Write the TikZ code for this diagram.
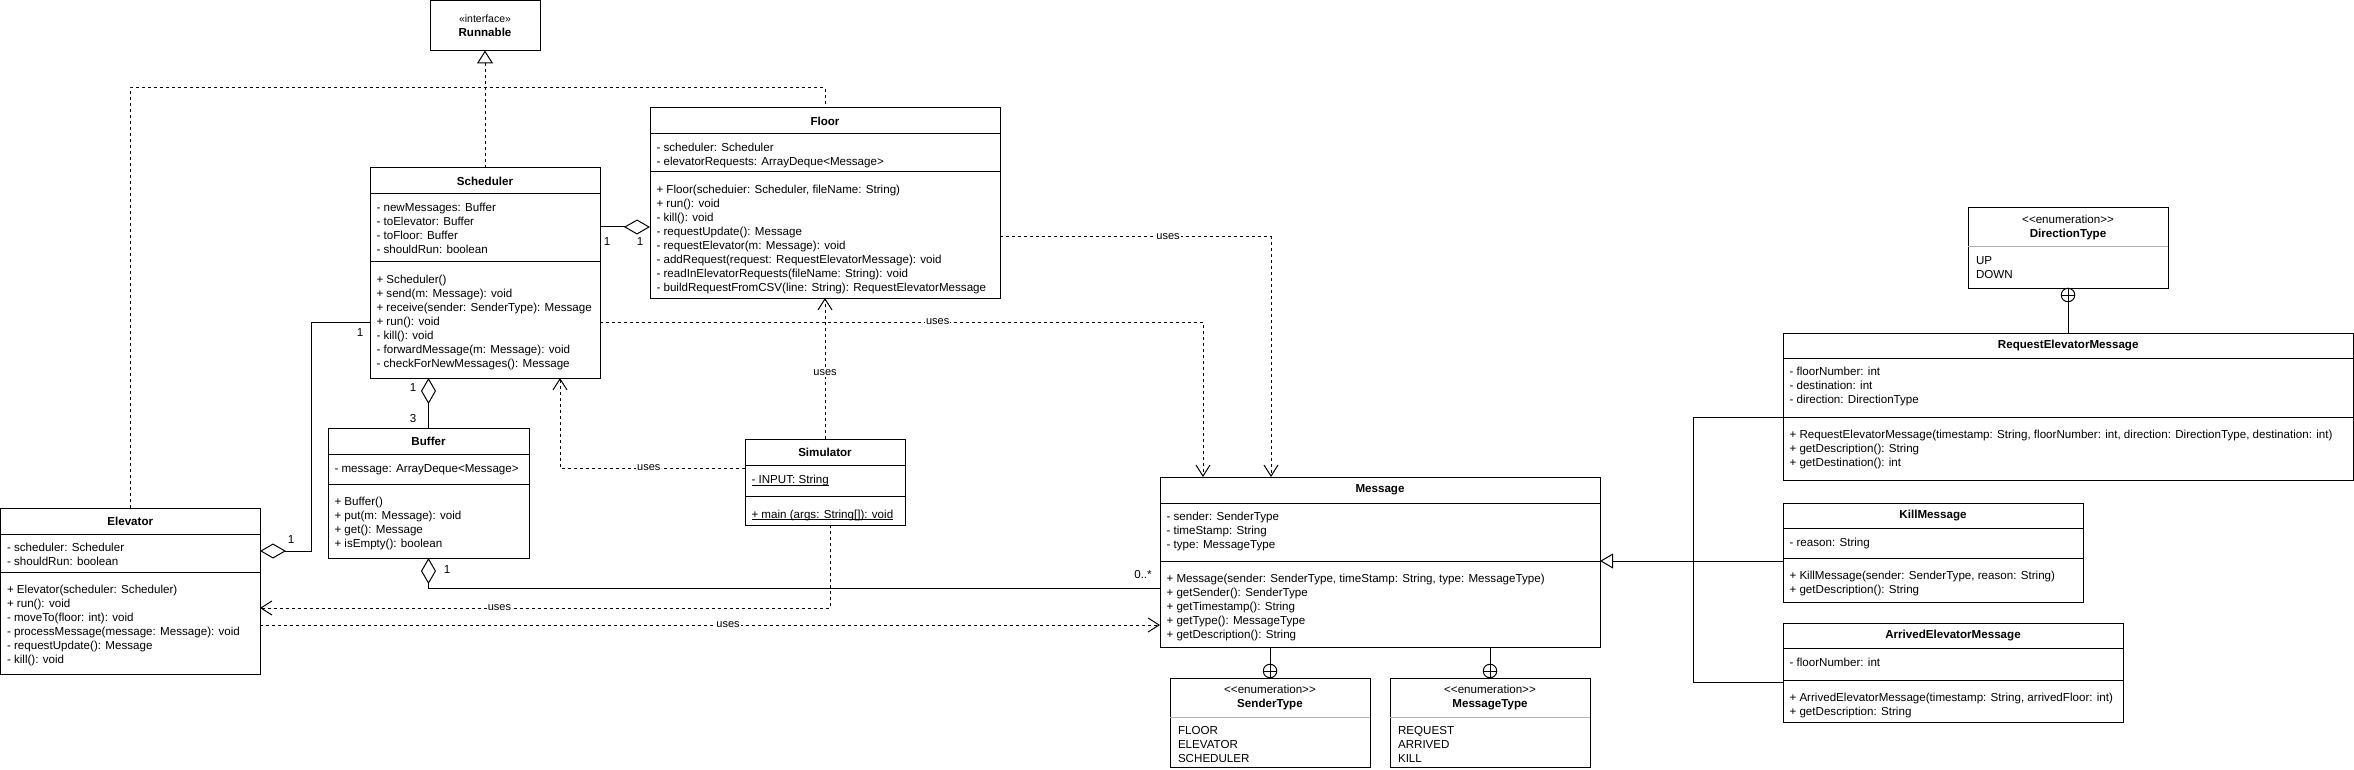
\documentclass[tikz,border=0pt]{standalone}
\usepackage{fontspec}
\setmainfont{Liberation Sans}
\usetikzlibrary{arrows.meta}

% class box: name, top left, width, header/attribute/method heights, title, attributes, methods
\newcommand{\umlclass}[9]{%
  \node[classbox, minimum width=#3pt, minimum height=#4pt+#5pt+#6pt] (#1) at (#2) {};
  \draw (#1.north west) ++(0,#4) -- ++(#3,0);
  \draw (#1.north west) ++(0,#4+#5) -- ++(#3,0);
  \path (#1.north) ++(0,#4/2) node[classtitle] {#7};
  \path (#1.north west) ++(6,#4+8.4) node[members] {#8};
  \path (#1.north west) ++(6,#4+#5+12.2) node[members] {#9};
}
% enumeration box: name, top left, width, header height, total height, title, values
\newcommand{\umlenum}[7]{%
  \node[classbox, minimum width=#3pt, minimum height=#5pt] (#1) at (#2) {};
  \draw[enumsep] (#1.north west) ++(0,#4) -- ++(#3,0);
  \path (#1.north) ++(0,#4/2) node[enumtitle] {<\kern0pt<enumeration>\kern0pt>\\\textbf{#6}};
  \path (#1.north west) ++(7.5,#4+9) node[members] {#7};
}
% static member, underlined close to the baseline
\newcommand{\static}[1]{\setbox0\hbox{#1}\rlap{\rule[-1.6pt]{\wd0}{0.8pt}}\box0}

\begin{document}
\begin{tikzpicture}[x=1pt, y=-1pt, line width=1pt,
    font=\fontsize{11.6}{14.1}\selectfont,
    classbox/.style={draw, rectangle, anchor=north west, inner sep=0pt, outer sep=0pt},
    classtitle/.style={font=\fontsize{11.6}{14.1}\selectfont\bfseries, inner sep=0pt},
    members/.style={anchor=north west, align=left, inner sep=0pt, execute at begin node=\strut},
    enumtitle/.style={align=center, inner sep=0pt},
    enumsep/.style={draw=black!30},
    dashline/.style={dash pattern=on 3pt off 3pt},
    uses/.style={dashline, -{Straight Barb[length=11pt, width=14pt]}},
    realize/.style={dashline, -{Triangle[open, length=13pt, width=16pt]}},
    inherit/.style={-{Triangle[open, length=13pt, width=15pt]}},
    aggr/.style={-{Diamond[open, length=26pt, width=15pt]}},
    lbl/.style={font=\fontsize{11}{13}\selectfont, fill=white, inner sep=1pt},
    mult/.style={inner sep=0pt},
    nest/.style={circle, draw, fill=white, minimum size=13.5pt, inner sep=0pt,
      path picture={\draw (path picture bounding box.north) -- (path picture bounding box.south)
        (path picture bounding box.west) -- (path picture bounding box.east);}}]
  \useasboundingbox (0,0) rectangle (2354,770);

  % Interface
  \node[classbox, minimum width=110pt, minimum height=50pt, align=center] (run) at (430,0.5)
    {{\fontsize{10.5}{15}\selectfont «interface»}\\\textbf{Runnable}};

  % Classes
  \umlclass{sched}{370,168}{230}{26}{68}{116}{Scheduler}
    {- newMessages: Buffer\\- toElevator: Buffer\\- toFloor: Buffer\\- shouldRun: boolean}
    {+ Scheduler()\\+ send(m: Message): void\\+ receive(sender: SenderType): Message\\+ run(): void\\- kill(): void\\- forwardMessage(m: Message): void\\- checkForNewMessages(): Message}
  \umlclass{flr}{650,108}{350}{26}{38}{126}{Floor}
    {- scheduler: Scheduler\\- elevatorRequests: ArrayDeque<Message>}
    {+ Floor(scheduier: Scheduler, fileName: String)\\+ run(): void\\- kill(): void\\- requestUpdate(): Message\\- requestElevator(m: Message): void\\- addRequest(request: RequestElevatorMessage): void\\- readInElevatorRequests(fileName: String): void\\- buildRequestFromCSV(line: String): RequestElevatorMessage}
  \umlclass{buf}{328,428}{201}{26}{30}{74}{Buffer}
    {- message: ArrayDeque<Message>}
    {+ Buffer()\\+ put(m: Message): void\\+ get(): Message\\+ isEmpty(): boolean}
  \umlclass{sim}{745,439}{160}{26}{31}{29}{Simulator}
    {\static{- INPUT: String}}
    {\static{+ main (args: String[]): void}}
  \umlclass{elev}{0.5,508}{259.5}{26}{38}{102}{Elevator}
    {- scheduler: Scheduler\\- shouldRun: boolean}
    {+ Elevator(scheduler: Scheduler)\\+ run(): void\\- moveTo(floor: int): void\\- processMessage(message: Message): void\\- requestUpdate(): Message\\- kill(): void}
  \umlclass{msg}{1160,477}{440}{26}{58}{86}{Message}
    {- sender: SenderType\\- timeStamp: String\\- type: MessageType}
    {+ Message(sender: SenderType, timeStamp: String, type: MessageType)\\+ getSender(): SenderType\\+ getTimestamp(): String\\+ getType(): MessageType\\+ getDescription(): String}
  \umlclass{req}{1783,333}{570.5}{25}{59}{63}{RequestElevatorMessage}
    {- floorNumber: int\\- destination: int\\- direction: DirectionType}
    {+ RequestElevatorMessage(timestamp: String, floorNumber: int, direction: DirectionType, destination: int)\\+ getDescription(): String\\+ getDestination(): int}
  \umlclass{kill}{1783,503}{300}{25}{30}{44}{KillMessage}
    {- reason: String}
    {+ KillMessage(sender: SenderType, reason: String)\\+ getDescription(): String}
  \umlclass{arr}{1783,623}{340}{25}{32}{42}{ArrivedElevatorMessage}
    {- floorNumber: int}
    {+ ArrivedElevatorMessage(timestamp: String, arrivedFloor: int)\\+ getDescription: String}

  % Enumerations
  \umlenum{stype}{1170,678}{200}{39}{89}{SenderType}{FLOOR\\ELEVATOR\\SCHEDULER}
  \umlenum{mtype}{1390,678}{200}{39}{89}{MessageType}{REQUEST\\ARRIVED\\KILL}
  \umlenum{dtype}{1968,208}{200}{39}{80}{DirectionType}{UP\\DOWN}

  % Realization of Runnable
  \draw[realize] (sched.north) -- (run.south);
  \draw[dashline] (elev.north) |- (flr.north |- 0,88) -- (flr.north);

  % Aggregations
  \draw[aggr] (sched.east |- 0,227) -- (flr.west |- 0,227)
    node[mult, at start, xshift=7pt, yshift=-15pt] {1}
    node[mult, at end, xshift=-10pt, yshift=-15pt] {1};
  \draw[aggr] (sched.west |- 0,322) -- ++(-59,0) node[mult, at start, xshift=-10pt, yshift=-11pt] {1}
    |- (elev.east |- 0,551) node[mult, at end, xshift=31pt, yshift=11pt] {1};
  \draw[aggr] (buf.north) -- (buf.north |- sched.south)
    node[mult, at start, xshift=-15.5pt, yshift=9pt] {3}
    node[mult, at end, xshift=-15.5pt, yshift=-10pt] {1};
  \draw[aggr] (msg.west |- 0,588) -| (buf.south)
    node[mult, at start, xshift=-17pt, yshift=13pt] {0..*}
    node[mult, at end, xshift=18.5pt, yshift=-12pt] {1};

  % Dependencies
  \draw[uses] (sched.east |- 0,322) -| ([xshift=43pt]msg.north west) node[lbl, pos=0.28] {uses};
  \draw[uses] (flr.east |- 0,237) -| ([xshift=111pt]msg.north west) node[lbl, pos=0.31] {uses};
  \draw[uses] (sim.north) -- (flr.south) node[lbl, pos=0.47] {uses};
  \draw[uses] (sim.west |- 0,468) -| ([xshift=75pt]sched.south) node[lbl, pos=0.26] {uses};
  \draw[uses] ([xshift=5pt]sim.south) |- (elev.east |- 0,608) node[lbl, pos=0.79] {uses};
  \draw[uses] (elev.east |- 0,625) -- (msg.west |- 0,625) node[lbl, pos=0.52] {uses};

  % Generalization
  \coordinate (bus) at (1693,561);
  \draw[inherit] (kill.west |- bus) -- (msg.east |- bus);
  \draw (req.west |- 0,417) -| (bus) |- (arr.west |- 0,682);

  % Nesting
  \node[nest] (nstype) at ([yshift=7pt]stype.north) {};
  \node[nest] (nmtype) at ([yshift=7pt]mtype.north) {};
  \node[nest] (ndtype) at ([yshift=-7pt]dtype.south) {};
  \draw (nstype.north) -- (nstype.north |- msg.south);
  \draw (nmtype.north) -- (nmtype.north |- msg.south);
  \draw (ndtype.south) -- (ndtype.south |- req.north);
\end{tikzpicture}
\end{document}
